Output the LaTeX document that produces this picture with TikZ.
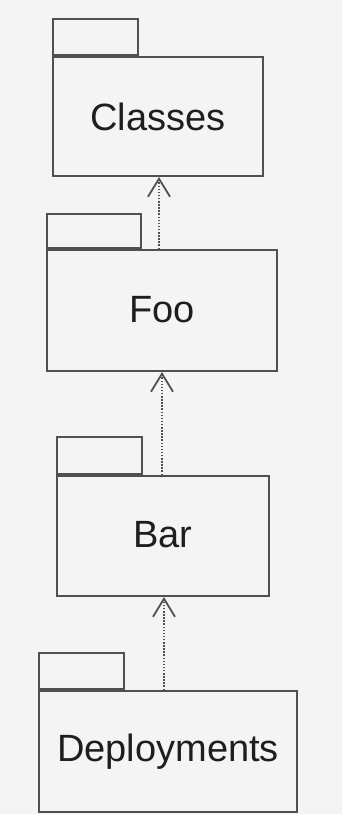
\documentclass[tikz,border=0pt]{standalone}
\usepackage{fontspec}
\setmainfont{Liberation Sans}
\usetikzlibrary{arrows.meta}
\definecolor{bg}{HTML}{F4F4F4}
\definecolor{ln}{HTML}{505050}
\definecolor{tx}{HTML}{1E1E1E}
\begin{document}
\begin{tikzpicture}[x=1pt,y=-1pt,
  pkg/.style={draw=ln, line width=2pt, fill=bg, inner sep=0pt, text=tx,
    font=\fontsize{38}{40}\selectfont},
  tab/.style={draw=ln, line width=2pt, fill=bg, inner sep=0pt, anchor=south west},
  dep/.style={draw=ln, line width=1.8pt, dash pattern=on 1.5pt off 1.6pt,
    -{Straight Barb[length=18pt,width=22pt,line width=1.8pt]}}]
\fill[bg] (0,0) rectangle (342,814);
\useasboundingbox (0,0) rectangle (342,814);

\node[pkg, minimum width=210pt, minimum height=119pt] (classes) at (158,116.5) {Classes};
\node[tab, minimum width=85pt, minimum height=36pt] (classestab) at (classes.north west) {};

\node[pkg, minimum width=230pt, minimum height=121pt] (foo) at (162,310.5) {\raisebox{3pt}{Foo}};
\node[tab, minimum width=94pt, minimum height=34pt] (footab) at (foo.north west) {};

\node[pkg, minimum width=212pt, minimum height=120pt] (bar) at (163,536) {\raisebox{4pt}{Bar}};
\node[tab, minimum width=85pt, minimum height=37pt] (bartab) at (bar.north west) {};

\node[pkg, minimum width=258pt, minimum height=121pt] (deploy) at (168,751.5) {\raisebox{2pt}{Deployments}};
\node[tab, minimum width=85pt, minimum height=36pt] (deploytab) at (deploy.north west) {};

\coordinate (x1) at (159,0);
\coordinate (x2) at (162,0);
\coordinate (x3) at (164,0);
\draw[dep] (x1 |- foo.north) -- (x1 |- classes.south);
\draw[dep] (x2 |- bar.north) -- (x2 |- foo.south);
\draw[dep] (x3 |- deploy.north) -- (x3 |- bar.south);
\end{tikzpicture}
\end{document}
